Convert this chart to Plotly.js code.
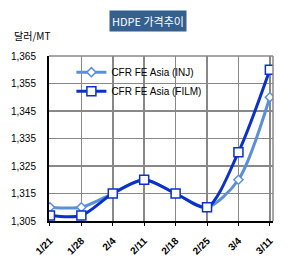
<!DOCTYPE html>
<html><head><meta charset="utf-8">
<script src="https://cdn.plot.ly/plotly-3.0.1.min.js"></script>
<style>html,body{margin:0;padding:0;background:#fff}#c{width:299px;height:272px}</style>
</head><body><div id="c"></div>
<script>
const dates = ['1/21','1/28','2/4','2/11','2/18','2/25','3/4','3/11'];
const injValues = [1310,1310,1315,1320,1315,1310,1320,1350];
const filmValues = [1307,1307,1315,1320,1315,1310,1330,1360];
const yTicks = [1305,1315,1325,1335,1345,1355,1365];
const yTickText = ['1,305','1,315','1,325','1,335','1,345','1,355','1,365'];

const data = [
  {x: dates, y: injValues, name: 'CFR FE Asia (INJ)', type: 'scatter', mode: 'lines+markers',
   line: {color: '#5b8fd9', width: 3, shape: 'spline', smoothing: 0.8},
   marker: {symbol: 'diamond', size: 7, color: '#ffffff', line: {color: '#5b8fd9', width: 1.5}}},
  {x: dates, y: filmValues, name: 'CFR FE Asia (FILM)', type: 'scatter', mode: 'lines+markers',
   line: {color: '#0a32c8', width: 3, shape: 'spline', smoothing: 0.8},
   marker: {symbol: 'square', size: 9, color: '#ffffff', line: {color: '#0a32c8', width: 1.5}}}
];

const layout = {
  width: 299, height: 272,
  margin: {l: 49, r: 26, t: 56, b: 51, pad: 0},
  paper_bgcolor: '#ffffff', plot_bgcolor: '#ffffff',
  font: {family: 'Liberation Sans, Arial, sans-serif', size: 10, color: '#000'},
  showlegend: true,
  legend: {x: 0.1, y: 0.99, xanchor: 'left', yanchor: 'top', bgcolor: 'rgba(0,0,0,0)',
           font: {size: 10, color: '#000'}, tracegroupgap: 2, itemwidth: 30},
  xaxis: {type: 'category', range: [-0.03, 7.1], showgrid: true, gridcolor: '#888', gridwidth: 1.5,
          showline: true, linecolor: '#000', linewidth: 2, ticks: 'outside', ticklen: 3, tickcolor: '#000',
          tickangle: -45, tickfont: {size: 10, weight: 'bold'}, ticklabelstandoff: 5, zeroline: false, fixedrange: true},
  yaxis: {range: [1305, 1365], tickvals: yTicks, ticktext: yTickText, showgrid: true, gridcolor: '#888', gridwidth: 1.5,
          showline: true, linecolor: '#000', linewidth: 2, ticks: '', tickfont: {size: 10}, ticklabelstandoff: 9,
          zeroline: false, fixedrange: true},
  shapes: [
    {type: 'line', xref: 'paper', yref: 'paper', x0: 1, x1: 1, y0: 0, y1: 1, line: {color: '#888', width: 1.5}},
    {type: 'line', xref: 'paper', yref: 'paper', x0: 0, x1: 1, y0: 1, y1: 1, line: {color: '#888', width: 1.5}}
  ],
  annotations: [
    {text: 'HDPE 가격추이', xref: 'paper', yref: 'paper', x: (148-49)/224, y: 1 + (56-21)/165, xanchor: 'center', yanchor: 'middle',
     showarrow: false, bgcolor: '#355f8d', font: {family: 'Noto Sans CJK KR, sans-serif', size: 11, color: '#ffffff'}, borderpad: 2},
    {text: '달러/MT', xref: 'paper', yref: 'paper', x: -49/224 + 12/224, y: 1 + (56-35)/165, xanchor: 'left', yanchor: 'middle',
     showarrow: false, font: {family: 'Noto Sans CJK KR, sans-serif', size: 10, color: '#000'}}
  ]
};
Plotly.newPlot('c', data, layout, {displayModeBar: false, staticPlot: true});
</script></body></html>
